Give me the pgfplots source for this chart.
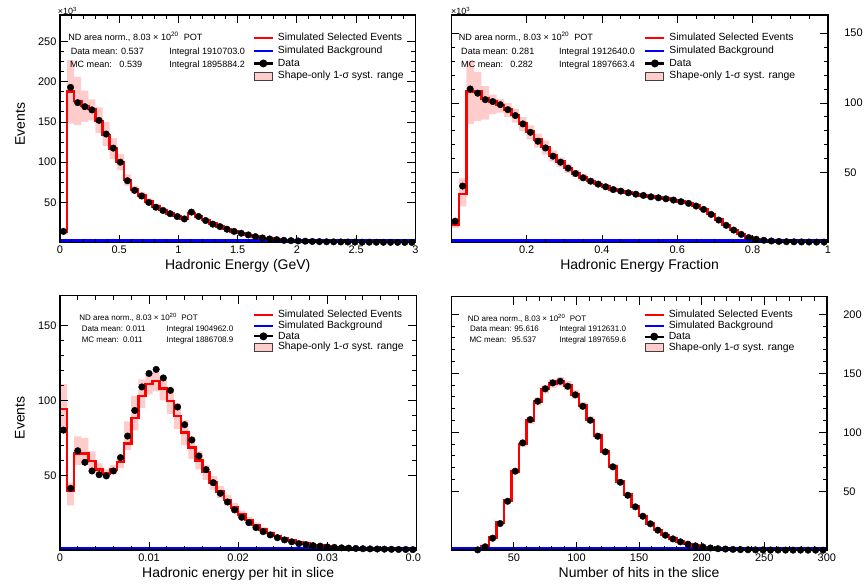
\documentclass[border=0pt]{standalone}
\usepackage{fontspec}
\setmainfont{Liberation Sans}
\usepackage{pgfplots}
\usepackage{pgfplotstable}
\usepgfplotslibrary{fillbetween}
\pgfplotsset{compat=1.18}
\definecolor{bandpink}{RGB}{255,204,204}
\definecolor{rootred}{RGB}{255,0,0}
\definecolor{rootblue}{RGB}{0,0,255}

\pgfplotstableread{
e c mc up lo dat bg
0.00 0.03 13 16 10 14 2.5
0.06 0.09 188 227 148 193 2.5
0.12 0.15 176 206 146 174 2.5
0.18 0.21 170 189 150 169 2.5
0.24 0.27 166 178 152 165 2.5
0.30 0.33 151 168 136 152 2.5
0.36 0.39 134 150 120 135 2.5
0.42 0.45 117 130 104 117.5 2.5
0.48 0.51 100 110 90 100 2.5
0.54 0.57 78 85 71 77 2.5
0.60 0.63 66 71 61 65 2.5
0.66 0.69 58.5 63 54 58 2.5
0.72 0.75 51 55 47.5 50 2.5
0.78 0.81 45 48 42 44 2.5
0.84 0.87 40.5 43.5 37.5 40 2.5
0.90 0.93 36.5 39 34 36 2.5
0.96 0.99 33 35.5 31 32.5 2.5
1.02 1.05 30 32 28 29.5 2.5
1.08 1.11 37 40 34.5 38 2.5
1.14 1.17 32.5 34.5 30.5 32.5 2.5
1.20 1.23 28 30 26 27.5 2.5
1.26 1.29 23.5 25 22 23 2.5
1.32 1.35 20.2 21.5 19 20 2.5
1.38 1.41 17 18 16 16.7 2.5
1.44 1.47 14.2 15 13.4 14 2.5
1.50 1.53 11.8 12.5 11.1 11.7 2.5
1.56 1.59 9.7 10.3 9.1 9.6 2.5
1.62 1.65 7.7 8.2 7.2 7.5 2.5
1.68 1.71 6.0 6.4 5.6 5.8 2.5
1.74 1.77 4.8 5.1 4.5 4.6 2.5
1.80 1.83 3.8 4.0 3.6 3.7 2.5
1.86 1.89 3.0 3.2 2.8 2.9 2.5
1.92 1.95 2.5 2.6 2.4 2.5 2.5
1.98 2.01 2.1 2.2 2.0 2.1 2.5
2.04 2.07 1.8 1.9 1.7 1.8 2.5
2.10 2.13 1.5 1.6 1.4 1.5 2.5
2.16 2.19 1.3 1.4 1.2 1.3 2.5
2.22 2.25 1.1 1.2 1.0 1.1 2.5
2.28 2.31 1.0 1.05 0.95 1.0 2.5
2.34 2.37 0.9 0.95 0.85 0.9 2.5
2.40 2.43 0.8 0.85 0.75 0.8 2.5
2.46 2.49 0.7 0.75 0.65 0.7 2.5
2.52 2.55 0.6 0.65 0.55 0.6 2.5
2.58 2.61 0.55 0.6 0.5 0.55 2.5
2.64 2.67 0.5 0.55 0.45 0.5 2.5
2.70 2.73 0.45 0.5 0.4 0.45 2.5
2.76 2.79 0.4 0.45 0.35 0.4 2.5
2.82 2.85 0.35 0.4 0.3 0.35 2.5
2.88 2.91 0.3 0.35 0.25 0.3 2.5
2.94 2.97 0.3 0.35 0.25 0.3 2.5
3.00 nan 0.3 0.35 0.25 nan 2.5
}\tabA

\pgfplotstableread{
e c mc up lo dat bg
0.00 0.01 12.9 16 10.5 15.4 1.4
0.02 0.03 34.8 46 26 40.5 1.4
0.04 0.05 108 130 85 110 1.4
0.06 0.07 108 122 87 107 1.4
0.08 0.09 103 112 88 102.4 1.4
0.10 0.11 101 106 92 101 1.4
0.12 0.13 98.5 103 93 98.8 1.4
0.14 0.15 95.5 100 90 95.2 1.4
0.16 0.17 91.5 96 86 91 1.4
0.18 0.19 85.5 90 80 85 1.4
0.20 0.21 79.5 84 74 79 1.4
0.22 0.23 74 78 68 72.6 1.4
0.24 0.25 68.5 73 63 67.8 1.4
0.26 0.27 62.5 66 58 61.9 1.4
0.28 0.29 58 61 54 57.6 1.4
0.30 0.31 53.5 56.5 50 53.3 1.4
0.32 0.33 49.5 52 47 49.5 1.4
0.34 0.35 46.5 49 44 46.4 1.4
0.36 0.37 44 46 42 44 1.4
0.38 0.39 42 43.8 40 41.9 1.4
0.40 0.41 40 41.8 38.3 40 1.4
0.42 0.43 38.2 39.9 36.6 38 1.4
0.44 0.45 37 38.6 35.4 36.9 1.4
0.46 0.47 35.8 37.3 34.3 35.7 1.4
0.48 0.49 34.8 36.3 33.3 34.7 1.4
0.50 0.51 33.9 35.3 32.5 33.8 1.4
0.52 0.53 33 34.4 31.6 32.8 1.4
0.54 0.55 32.2 33.6 30.8 32.1 1.4
0.56 0.57 31.5 32.8 30.2 31.4 1.4
0.58 0.59 30.6 31.9 29.3 30.5 1.4
0.60 0.61 29.5 30.8 28.2 29.3 1.4
0.62 0.63 28.3 29.5 27.1 28.1 1.4
0.64 0.65 26.5 27.6 25.4 26.2 1.4
0.66 0.67 24 25 23 23.8 1.4
0.68 0.69 20.5 21.4 19.6 20.2 1.4
0.70 0.71 16.5 17.2 15.8 16.2 1.4
0.72 0.73 12.6 13.2 12 12.4 1.4
0.74 0.75 9.2 9.6 8.8 9 1.4
0.76 0.77 6.1 6.4 5.8 5.9 1.4
0.78 0.79 3.8 4.0 3.6 3.6 1.4
0.80 0.81 2.5 2.6 2.4 2.4 1.4
0.82 0.83 1.7 1.8 1.6 1.7 1.4
0.84 0.85 1.2 1.3 1.1 1.2 1.4
0.86 0.87 0.9 1.0 0.85 0.9 1.4
0.88 0.89 0.7 0.75 0.65 0.7 1.4
0.90 0.91 0.6 0.65 0.55 0.6 1.4
0.92 0.93 0.5 0.55 0.45 0.5 1.4
0.94 0.95 0.45 0.5 0.4 0.45 1.4
0.96 0.97 0.4 0.45 0.35 0.4 1.4
0.98 0.99 0.4 0.45 0.35 0.4 1.4
1.00 nan 0.4 0.45 0.35 nan 1.4
}\tabB

\pgfplotstableread{
e c mc up lo dat bg
0.0000 0.0004 94.4 111 78 80.2 1.3
0.0008 0.0012 39.6 45 30 41.3 1.3
0.0016 0.0020 64.7 76 57 66.4 1.3
0.0024 0.0028 64.7 75 57 58.7 1.3
0.0032 0.0036 59.6 66 54 52.9 1.3
0.0040 0.0044 54 58 51 50.4 1.3
0.0048 0.0052 51.3 54 48.5 49.6 1.3
0.0056 0.0060 54 57 51 52.9 1.3
0.0064 0.0068 58.9 63 55 61.8 1.3
0.0072 0.0076 71.3 86 67 76.2 1.3
0.0080 0.0084 88.4 103 80 93.3 1.3
0.0088 0.0092 102.9 114 95 109 1.3
0.0096 0.0100 111.1 118 104 118 1.3
0.0104 0.0108 112.9 119 106 120.7 1.3
0.0112 0.0116 107.8 116 100 115 1.3
0.0120 0.0124 99.6 108 91 106.7 1.3
0.0128 0.0132 89.6 98 81 95.6 1.3
0.0136 0.0140 78.4 87 70 83.8 1.3
0.0144 0.0148 68.4 76 61 73.6 1.3
0.0152 0.0156 60 66 54 62.9 1.3
0.0160 0.0164 52.2 57 47 53.8 1.3
0.0168 0.0172 45.1 49.5 40.5 45.1 1.3
0.0176 0.0180 39.1 43 35 38 1.3
0.0184 0.0188 33.6 37 30 32.2 1.3
0.0192 0.0196 28.5 31.5 25.5 26.9 1.3
0.0200 0.0204 24 26.5 21.5 22 1.3
0.0208 0.0212 20.2 22.3 18.1 18.4 1.3
0.0216 0.0220 16.8 18.6 15 15.1 1.3
0.0224 0.0228 14 15.5 12.5 12.4 1.3
0.0232 0.0236 11.6 12.8 10.4 10.2 1.3
0.0240 0.0244 9.6 10.6 8.6 8.4 1.3
0.0248 0.0252 7.9 8.7 7.1 6.9 1.3
0.0256 0.0260 6.5 7.2 5.8 5.6 1.3
0.0264 0.0268 5.3 5.8 4.8 4.4 1.3
0.0272 0.0276 4.4 4.8 4.0 3.8 1.3
0.0280 0.0284 3.6 3.9 3.3 3.1 1.3
0.0288 0.0292 3.0 3.24 2.76 2.7 1.3
0.0296 0.0300 2.5 2.7 2.3 2.2 1.3
0.0304 0.0308 2.1 2.27 1.93 1.9 1.3
0.0312 0.0316 1.8 1.95 1.65 1.6 1.3
0.0320 0.0324 1.5 1.62 1.38 1.4 1.3
0.0328 0.0332 1.3 1.4 1.2 1.2 1.3
0.0336 0.0340 1.1 1.19 1.01 1.0 1.3
0.0344 0.0348 1.0 1.08 0.92 0.9 1.3
0.0352 0.0356 0.9 0.97 0.83 0.8 1.3
0.0360 0.0364 0.8 0.86 0.74 0.7 1.3
0.0368 0.0372 0.7 0.76 0.64 0.6 1.3
0.0376 0.0380 0.6 0.65 0.55 0.5 1.3
0.0384 0.0388 0.5 0.54 0.46 0.5 1.3
0.0392 0.0396 0.45 0.49 0.41 0.4 1.3
0.0400 nan 0.45 0.49 0.41 nan 1.3
}\tabC

\pgfplotstableread{
e c mc up lo dat bg
0 3 0 0.1 0 nan 1.7
6 9 0 0.1 0 nan 1.7
12 15 0 0.1 0 nan 1.7
18 21 0.4 0.7 0.1 0.3 1.7
24 27 3.2 3.6 2.8 2.9 1.7
30 33 11 11.6 10.4 10.2 1.7
36 39 23.5 24.4 22.6 22.6 1.7
42 45 42 43.3 40.7 41.5 1.7
48 51 66.5 68.4 64.6 67 1.7
54 57 90 92.5 87.5 91 1.7
60 63 110 113 107 110.7 1.7
66 69 126 129.4 122.6 126.3 1.7
72 75 136.5 140.2 132.8 136.8 1.7
78 81 141.5 145.3 137.7 141.8 1.7
84 87 143 146.8 139.2 143.2 1.7
90 93 139.5 143.3 135.7 139 1.7
96 99 132 135.6 128.4 131.7 1.7
102 105 122.5 125.8 119.2 122 1.7
108 111 110.5 113.5 107.5 110.2 1.7
114 117 97 99.7 94.3 96.6 1.7
120 123 83.5 85.8 81.2 83.4 1.7
126 129 71 73 69 70.7 1.7
132 135 58 59.7 56.3 57.6 1.7
138 141 47 48.4 45.6 46.6 1.7
144 147 37 38.1 35.9 36.8 1.7
150 153 29 29.9 28.1 28.8 1.7
156 159 22.6 23.3 21.9 22.4 1.7
162 165 17.2 17.7 16.7 17 1.7
168 171 12.9 13.3 12.5 12.7 1.7
174 177 9.7 10 9.4 9.6 1.7
180 183 7.2 7.4 7.0 7.1 1.7
186 189 5.2 5.4 5.0 5.1 1.7
192 195 3.8 3.9 3.7 3.7 1.7
198 201 2.8 2.9 2.7 2.8 1.7
204 207 1.9 2.0 1.8 1.9 1.7
210 213 1.3 1.4 1.2 1.3 1.7
216 219 1.0 1.1 0.9 1.0 1.7
222 225 0.7 0.8 0.6 0.7 1.7
228 231 0.5 0.6 0.4 0.5 1.7
234 237 0.4 0.5 0.3 0.4 1.7
240 243 0.3 0.4 0.2 0.3 1.7
246 249 0.25 0.35 0.15 0.25 1.7
252 255 0.2 0.3 0.1 0.2 1.7
258 261 0.15 0.25 0.05 0.15 1.7
264 267 0.12 0.2 0.05 0.12 1.7
270 273 0.1 0.2 0.0 0.1 1.7
276 279 0.08 0.2 0 0.08 1.7
282 285 0.06 0.15 0 0.06 1.7
288 291 0.05 0.15 0 0.05 1.7
294 297 0.04 0.1 0 0.04 1.7
300 nan 0.04 0.1 0 nan 1.7
}\tabD

\tikzset{
  infotop/.style={anchor=base west, inner sep=0pt, font=\fontsize{9.1}{10}\selectfont},
  infotopr/.style={anchor=base east, inner sep=0pt, font=\fontsize{9.1}{10}\selectfont},
  infobot/.style={anchor=base west, inner sep=0pt, font=\fontsize{8}{9}\selectfont},
  infobotr/.style={anchor=base east, inner sep=0pt, font=\fontsize{8}{9}\selectfont},
  tenthree/.style={anchor=base west, inner sep=0pt, font=\fontsize{9}{10}\selectfont},
  legbox/.style={draw=none, fill=none},
}

\pgfplotsset{
  legred/.style={legend image code/.code={%
    \path[legbox] (0pt,-4.5pt) rectangle (19pt,4.5pt);
    \draw[draw=rootred, line width=2.1pt, fill=none] (0pt,0pt) -- (19pt,0pt);}},
  legblue/.style={legend image code/.code={%
    \path[legbox] (0pt,-4.5pt) rectangle (19pt,4.5pt);
    \draw[draw=rootblue, line width=2.1pt, fill=none] (0pt,0pt) -- (19pt,0pt);}},
  legdata/.style={legend image code/.code={%
    \path[legbox] (0pt,-4.5pt) rectangle (19pt,4.5pt);
    \draw[draw=black, line width=2.2pt, fill=none] (0pt,0pt) -- (19pt,0pt);
    \fill[black, draw=none] (9.5pt,0pt) circle (4pt);}},
  legband/.style={legend image code/.code={%
    \path[legbox] (0pt,-4.5pt) rectangle (19pt,4.5pt);
    \filldraw[fill=bandpink, draw=black!75, line width=1pt] (0.5pt,-4pt) rectangle (18.5pt,4pt);}},
  rootaxis/.style={
    scale only axis,
    axis on top,
    clip mode=individual,
    enlargelimits=false,
    ymin=0,
    axis line style={line width=1.6pt},
    every tick/.style={black, line width=0.9pt},
    major tick length=8pt,
    minor tick length=4pt,
    tick align=inside,
    scaled ticks=false,
    /pgf/number format/assume math mode=true,
    tick label style={font=\fontsize{11}{12}\selectfont},
    label style={font=\fontsize{14}{16}\selectfont},
    xlabel style={at={(axis description cs:0.5,0)}, anchor=base, yshift=-27pt},
    ylabel style={anchor=center},
    minor x tick num=4,
    minor y tick num=4,
    legend cell align=left,
    legend style={anchor=north west, draw=none, fill=none, inner xsep=0pt, inner ysep=0pt,
      row sep=3.3pt, column sep=4pt, font=\fontsize{10.4}{11}\selectfont,
      nodes={inner sep=0pt, text height=7.5pt, text depth=2pt},
      cells={anchor=west}},
  },
}

\begin{document}
\begin{tikzpicture}
\path (0pt,0pt) rectangle (866pt,588pt);

% ---------------- top left ----------------
\begin{axis}[rootaxis, at={(60pt,345pt)}, anchor=south west,
  width=356pt, height=228pt,
  xmin=0, xmax=3, ymax=283,
  xtick={0,0.5,1,1.5,2,2.5,3}, xticklabels={0,0.5,1,1.5,2,2.5,3},
  ytick={50,100,150,200,250}, yticklabels={50,100,150,200,250},
  minor y tick num=3,
  xlabel={Hadronic Energy (GeV)}, ylabel={Events},
  ylabel style={at={(axis description cs:-0.112,0.52)}},
  legend style={at={(0.542,0.921)}}]
\addplot[name path=upA, draw=none, const plot, forget plot] table[x=e, y=up] {\tabA};
\addplot[name path=loA, draw=none, const plot, forget plot] table[x=e, y=lo] {\tabA};
\addplot[fill=bandpink, draw=none, forget plot] fill between[of=upA and loA];
\addplot[rootred, line width=2.6pt, const plot, forget plot] table[x=e, y=mc] {\tabA};
\addplot[rootblue, line width=3pt, const plot, forget plot] table[x=e, y=bg] {\tabA};
\addplot[only marks, mark=*, mark size=3.3pt, black, forget plot] table[x=c, y=dat] {\tabA};
\addlegendimage{legred}\addlegendentry{Simulated Selected Events}
\addlegendimage{legblue}\addlegendentry{Simulated Background}
\addlegendimage{legdata}\addlegendentry{Data}
\addlegendimage{legband}\addlegendentry{Shape-only 1-σ syst. range}
\node[infotop] at (axis description cs:0.0233,0.889) {ND area norm., 8.03 × 10\textsuperscript{20}\ \ POT};
\node[infotop] at (axis description cs:0.030,0.8246) {Data mean: 0.537};
\node[infotop] at (axis description cs:0.307,0.8246) {Integral 1910703.0};
\node[infotop] at (axis description cs:0.028,0.7706) {MC mean:};
\node[infotopr] at (axis description cs:0.232,0.7706) {0.539};
\node[infotop] at (axis description cs:0.307,0.7706) {Integral 1895884.2};
\node[tenthree] at (axis description cs:-0.006,1.0) {×10\textsuperscript{3}};
\end{axis}

% ---------------- top right ----------------
\begin{axis}[rootaxis, at={(452pt,345pt)}, anchor=south west,
  width=377pt, height=228pt,
  xmin=0, xmax=1, ymax=163,
  xtick={0.2,0.4,0.6,0.8,1}, xticklabels={0.2,0.4,0.6,0.8,1},
  minor x tick num=3,
  ytick={50,100,150}, yticklabels={50,100,150},
  yticklabel pos=right,
  yticklabel style={xshift=13pt},
  xlabel={Hadronic Energy Fraction},
  legend style={at={(0.512,0.921)}}]
\addplot[name path=upB, draw=none, const plot, forget plot] table[x=e, y=up] {\tabB};
\addplot[name path=loB, draw=none, const plot, forget plot] table[x=e, y=lo] {\tabB};
\addplot[fill=bandpink, draw=none, forget plot] fill between[of=upB and loB];
\addplot[rootred, line width=2.6pt, const plot, forget plot] table[x=e, y=mc] {\tabB};
\addplot[rootblue, line width=3pt, const plot, forget plot] table[x=e, y=bg] {\tabB};
\addplot[only marks, mark=*, mark size=3.3pt, black, forget plot] table[x=c, y=dat] {\tabB};
\addlegendimage{legred}\addlegendentry{Simulated Selected Events}
\addlegendimage{legblue}\addlegendentry{Simulated Background}
\addlegendimage{legdata}\addlegendentry{Data}
\addlegendimage{legband}\addlegendentry{Shape-only 1-σ syst. range}
\node[infotop] at (axis description cs:0.0194,0.889) {ND area norm., 8.03 × 10\textsuperscript{20}\ \ POT};
\node[infotop] at (axis description cs:0.0257,0.8246) {Data mean: 0.281};
\node[infotop] at (axis description cs:0.2857,0.8246) {Integral 1912640.0};
\node[infotop] at (axis description cs:0.0257,0.7706) {MC mean:};
\node[infotopr] at (axis description cs:0.2175,0.7706) {0.282};
\node[infotop] at (axis description cs:0.2857,0.7706) {Integral 1897663.4};
\node[tenthree] at (axis description cs:-0.001,1.0) {×10\textsuperscript{3}};
\end{axis}

% ---------------- bottom left ----------------
\begin{axis}[rootaxis, at={(60pt,37pt)}, anchor=south west,
  width=357pt, height=255pt,
  xmin=0, xmax=0.04, ymax=170,
  xtick={0,0.01,0.02,0.03,0.04}, xticklabels={0,0.01,0.02,0.03,0.0\phantom{4}},
  ytick={50,100,150}, yticklabels={50,100,150},
  xlabel={Hadronic energy per hit in slice}, ylabel={Events},
  ylabel style={at={(axis description cs:-0.112,0.52)}},
  legend style={at={(0.5406,0.944)}, row sep=1.3pt}]
\addplot[name path=upC, draw=none, const plot, forget plot] table[x=e, y=up] {\tabC};
\addplot[name path=loC, draw=none, const plot, forget plot] table[x=e, y=lo] {\tabC};
\addplot[fill=bandpink, draw=none, forget plot] fill between[of=upC and loC];
\addplot[rootred, line width=2.6pt, const plot, forget plot] table[x=e, y=mc] {\tabC};
\addplot[rootblue, line width=3pt, const plot, forget plot] table[x=e, y=bg] {\tabC};
\addplot[only marks, mark=*, mark size=3.3pt, black, forget plot] table[x=c, y=dat] {\tabC};
\addlegendimage{legred}\addlegendentry{Simulated Selected Events}
\addlegendimage{legblue}\addlegendentry{Simulated Background}
\addlegendimage{legdata}\addlegendentry{Data}
\addlegendimage{legband}\addlegendentry{Shape-only 1-σ syst. range}
\node[infobot] at (axis description cs:0.054,0.901) {ND area norm., 8.03 × 10\textsuperscript{20}\ \ POT};
\node[infobot] at (axis description cs:0.0608,0.859) {Data mean: 0.011};
\node[infobot] at (axis description cs:0.299,0.859) {Integral 1904962.0};
\node[infobot] at (axis description cs:0.0608,0.816) {MC mean:};
\node[infobotr] at (axis description cs:0.2325,0.816) {0.011};
\node[infobot] at (axis description cs:0.299,0.816) {Integral 1886708.9};
\end{axis}

% ---------------- bottom right ----------------
\begin{axis}[rootaxis, at={(452pt,37pt)}, anchor=south west,
  width=376pt, height=254pt,
  xmin=0, xmax=300, ymax=215,
  xtick={50,100,150,200,250,300}, xticklabels={50,100,150,200,250,300},
  ytick={50,100,150,200}, yticklabels={50,100,150,200},
  yticklabel pos=right,
  yticklabel style={xshift=13pt},
  xlabel={Number of hits in the slice},
  legend style={at={(0.5114,0.9466)}, row sep=1.3pt}]
\addplot[name path=upD, draw=none, const plot, forget plot] table[x=e, y=up] {\tabD};
\addplot[name path=loD, draw=none, const plot, forget plot] table[x=e, y=lo] {\tabD};
\addplot[fill=bandpink, draw=none, forget plot] fill between[of=upD and loD];
\addplot[rootred, line width=2.6pt, const plot, forget plot] table[x=e, y=mc] {\tabD};
\addplot[rootblue, line width=3pt, const plot, forget plot] table[x=e, y=bg] {\tabD};
\addplot[only marks, mark=*, mark size=3.3pt, black, forget plot] table[x=c, y=dat] {\tabD};
\addlegendimage{legred}\addlegendentry{Simulated Selected Events}
\addlegendimage{legblue}\addlegendentry{Simulated Background}
\addlegendimage{legdata}\addlegendentry{Data}
\addlegendimage{legband}\addlegendentry{Shape-only 1-σ syst. range}
\node[infobot] at (axis description cs:0.0434,0.9035) {ND area norm., 8.03 × 10\textsuperscript{20}\ \ POT};
\node[infobot] at (axis description cs:0.0497,0.8614) {Data mean: 95.616};
\node[infobot] at (axis description cs:0.287,0.8614) {Integral 1912631.0};
\node[infobot] at (axis description cs:0.0479,0.818) {MC mean:};
\node[infobotr] at (axis description cs:0.2269,0.818) {95.537};
\node[infobot] at (axis description cs:0.287,0.818) {Integral 1897659.6};
\end{axis}
\end{tikzpicture}
\end{document}
